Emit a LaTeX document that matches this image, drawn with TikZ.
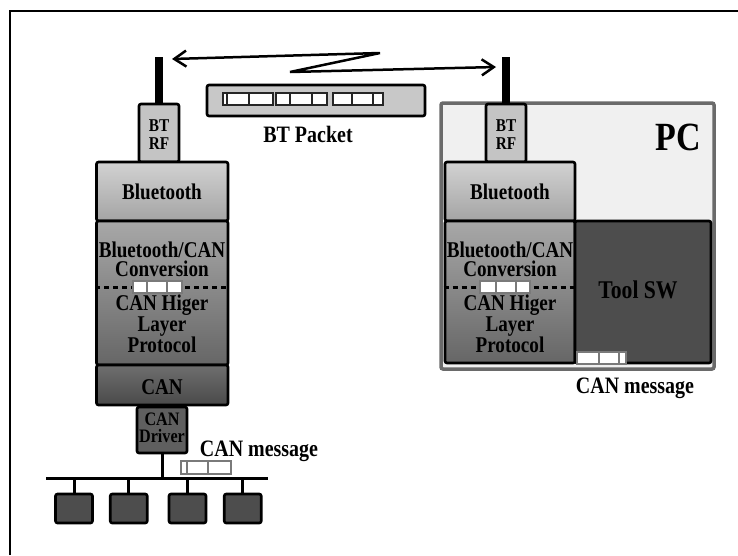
\documentclass[tikz,border=0pt]{standalone}
\usepackage{fontspec}
\setmainfont[FakeStretch=0.85]{Liberation Serif}
\usetikzlibrary{arrows.meta}
\definecolor{rfgray}{HTML}{C4C4C4}
\definecolor{bttop}{HTML}{D2D2D2}
\definecolor{btbot}{HTML}{A4A4A4}
\definecolor{cvtop}{HTML}{A8A8A8}
\definecolor{cvbot}{HTML}{666666}
\definecolor{cantop}{HTML}{6E6E6E}
\definecolor{canbot}{HTML}{4A4A4A}
\definecolor{darkfill}{HTML}{4D4D4D}
\definecolor{pcbg}{HTML}{F0F0F0}
\definecolor{pcedge}{HTML}{6A6A6A}
\definecolor{pktbox}{HTML}{C8C8C8}
\definecolor{divgray}{HTML}{7A7A7A}
\begin{document}
\begin{tikzpicture}[x=1pt,y=-1pt,
  box/.style={draw, line width=2.6pt, rounded corners=2pt, inner sep=0pt, align=center},
  txt/.style={inner sep=0pt, align=center, font=\bfseries\fontsize{22.5}{19.2}\selectfont},
  smalltxt/.style={inner sep=0pt, align=center, font=\bfseries\fontsize{18}{18}\selectfont},
  msgtxt/.style={inner sep=0pt, font=\bfseries\fontsize{23.5}{23.5}\selectfont},
  ant/.style={line width=8pt},
  busline/.style={line width=3pt},
  dsh/.style={line width=3pt, dash pattern=on 5pt off 4pt},
  zz/.style={line width=2.5pt, {Straight Barb[length=12pt,width=16pt]}-{Straight Barb[length=12pt,width=16pt]}},
  pkw/.style={draw=divgray, fill=white, line width=1.2pt},
  pkd/.style={draw=divgray, line width=1.2pt},
  pkb/.style={draw=black!85, fill=white, line width=1.5pt},
  pkbd/.style={draw=black!85, line width=1.5pt}]
\useasboundingbox (0,0) rectangle (738,555);
% frame
\draw[line width=2pt] (9.5,555) -- (9.5,10.5) -- (738,10.5);

% PC frame
\node[draw=pcedge, fill=pcbg, line width=3.5pt, rounded corners=2pt, minimum width=273pt, minimum height=266pt, inner sep=0pt] (pc) at (577.5,236) {};
\node[font=\bfseries\fontsize{40}{40}\selectfont, inner sep=0pt] (pclab) at (678,137) {PC};

% ---------- left stack ----------
\node[box, fill=rfgray, minimum width=40pt, minimum height=58pt] (rf1) at (159,133) {};
\node[smalltxt] (rf1t) at (159,135) {BT\\RF};
\node[box, top color=bttop, bottom color=btbot, minimum width=131.5pt, minimum height=59pt] (bt1) at (162.25,191.5) {};
\node[box, top color=cvtop, bottom color=cvbot, minimum width=131.5pt, minimum height=144pt] (cv1) at (162.25,293) {};
\node[box, top color=cantop, bottom color=canbot, minimum width=131.5pt, minimum height=40pt] (can1) at (162.25,385) {};
\node[box, fill=darkfill!90!white, minimum width=50pt, minimum height=46pt] (drv1) at (162,430) {};

\node[txt] (bt1t) at (162,192) {Bluetooth};
\node[txt] (cv1t) at (162,259) {Bluetooth/CAN\\Conversion};
\node[txt] (hl1t) at (162,324) {CAN Higer\\Layer\\Protocol};
\node[txt] (can1t) at (162,387) {CAN};
\node[inner sep=0pt, align=center, font=\bfseries\fontsize{19}{17}\selectfont] (drv1t) at (162,428) {CAN\\Driver};

\draw[dsh] ([yshift=6pt]cv1.west) -- ([yshift=6pt]cv1.east);
\draw[pkw] (133,281) rectangle (182,293);
\draw[pkd] (147,281) -- (147,293) (167,281) -- (167,293);

% antenna left
\coordinate (ant1) at (159,57);
\draw[ant] (rf1.north) -- (ant1);

% bus
\coordinate (busW) at (46,478);
\coordinate (busE) at (268,478);
\draw[busline] (busW) -- (busE);
\draw[busline] (drv1.south) -- (drv1.south |- busW);
\node[box, fill=darkfill, minimum width=37pt, minimum height=29pt] (n1) at (74,508.5) {};
\node[box, fill=darkfill, minimum width=37pt, minimum height=29pt] (n2) at (128.75,508.5) {};
\node[box, fill=darkfill, minimum width=37pt, minimum height=29pt] (n3) at (187.5,508.5) {};
\node[box, fill=darkfill, minimum width=37pt, minimum height=29pt] (n4) at (242.75,508.5) {};
\foreach \n in {n1,n2,n3,n4} \draw[busline] (\n.north |- busW) -- (\n.north);

\draw[pkw] (181,461) rectangle (231,474);
\draw[pkd] (187,461) -- (187,474) (208,461) -- (208,474);
\node[msgtxt] (cm1) at (259,451) {CAN message};

% ---------- right stack ----------
\node[box, fill=rfgray, minimum width=40pt, minimum height=58pt] (rf2) at (506,133) {};
\node[smalltxt] (rf2t) at (506,135) {BT\\RF};
\node[box, top color=bttop, bottom color=btbot, minimum width=130pt, minimum height=59pt] (bt2) at (510,191.5) {};
\node[box, top color=cvtop, bottom color=cvbot, minimum width=130pt, minimum height=142pt] (cv2) at (510,292) {};
\node[box, fill=darkfill, minimum width=136pt, minimum height=142pt] (tool) at (643,292) {};

\node[txt] (bt2t) at (510,192) {Bluetooth};
\node[txt] (cv2t) at (510,259) {Bluetooth/CAN\\Conversion};
\node[txt] (hl2t) at (510,324) {CAN Higer\\Layer\\Protocol};
\node[font=\bfseries\fontsize{25.5}{25.5}\selectfont, inner sep=0pt] (toolt) at (638,290) {Tool SW};

\draw[dsh] ([yshift=5pt]cv2.west) -- ([yshift=5pt]cv2.east);
\draw[pkw] (480,281) rectangle (530,293);
\draw[pkd] (496,281) -- (496,293) (516,281) -- (516,293);

\draw[pkw] (577,352) rectangle (626,364);
\draw[pkd] (599,352) -- (599,364) (619,352) -- (619,364);
\node[msgtxt] (cm2) at (635,388) {CAN message};

\coordinate (ant2) at (506,57);
\draw[ant] (rf2.north) -- (ant2);

% ---------- BT packet ----------
\node[box, fill=pktbox, minimum width=218pt, minimum height=31pt] (btp) at (316,100.5) {};
\draw[pkb] (223,93) rectangle (273,105);
\draw[pkbd] (227,93) -- (227,105) (249,93) -- (249,105);
\draw[pkb] (276,93) rectangle (327,105);
\draw[pkbd] (290,93) -- (290,105) (312,93) -- (312,105);
\draw[pkb] (333,93) rectangle (383,105);
\draw[pkbd] (352,93) -- (352,105) (373,93) -- (373,105);
\node[msgtxt] (btpt) at (308,134.5) {BT Packet};

% zigzag radio link
\coordinate (ltip) at (172,59);
\coordinate (zA) at (380,53);
\coordinate (zB) at (290,72);
\coordinate (rtip) at (496,67);
\draw[zz] (ltip) -- (zA) -- (zB) -- (rtip);
\end{tikzpicture}
\end{document}
